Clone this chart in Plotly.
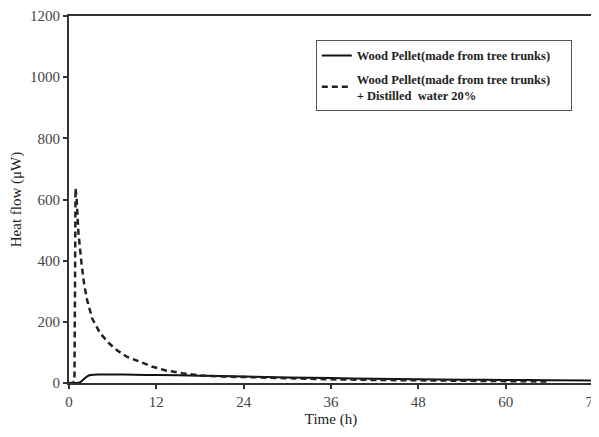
import plotly.graph_objects as go

# Time (h) and heat flow (µW)
t_dry = [0, 1.0, 1.5, 2.0, 2.5, 3.0, 4, 6, 9, 12, 18, 24, 30, 36, 42, 48, 54, 60, 66, 72]
q_dry = [0, 0, 2, 12, 22, 26, 28, 28, 27, 26, 24, 21, 18, 16, 14, 12, 11, 10, 9, 8]

t_wet = [0, 0.5, 0.75, 0.9, 1.05, 1.3, 1.7, 2.1, 2.5, 3.2, 4.3, 5.5, 6.6, 8.0, 9.8, 11.5, 13.3, 15.5, 18, 21, 24.8, 30, 36, 42, 48, 54, 60, 66]
q_wet = [0, 0, 5, 637, 600, 490, 395, 320, 270, 210, 162, 130, 107, 85, 69, 53, 41, 32, 25, 21, 19, 15, 12, 10, 8, 7, 6, 5]

x_ticks = [0, 12, 24, 36, 48, 60, 72]
y_ticks = [0, 200, 400, 600, 800, 1000, 1200]

name_dry = "Wood Pellet(made from tree trunks)&nbsp;&nbsp;&nbsp;&nbsp;&nbsp;"
name_wet = "Wood Pellet(made from tree trunks)<br>+ Distilled  water 20%"

fig = go.Figure()
fig.add_trace(go.Scatter(x=t_dry, y=q_dry, mode="lines", name=name_dry, legendgroup="a",
                         line=dict(color="#111111", width=2, shape="spline", smoothing=0.6)))
fig.add_trace(go.Scatter(x=t_wet, y=q_wet, mode="lines", name=name_wet, legendgroup="b",
                         line=dict(color="#222222", width=2.5, dash="6px,4px")))

axis_common = dict(showgrid=False, zeroline=False, showline=True, linecolor="#333333",
                   linewidth=2, mirror=True, ticks="outside", ticklen=4, tickwidth=1.5,
                   tickcolor="#333333", automargin=False,
                   tickfont=dict(family="Liberation Serif", size=15, color="#444444"),
                   title_font=dict(family="Liberation Serif", size=15, color="#222222"))

fig.update_xaxes(range=[0, 72], tickvals=x_ticks, title_text="Time (h)", title_standoff=4, **axis_common)
fig.update_yaxes(range=[0, 1200], tickvals=y_ticks, title_text="Heat flow (μW)", title_standoff=8, **axis_common)

fig.update_layout(
    width=599, height=429,
    margin=dict(l=61, r=14, t=8, b=54),
    plot_bgcolor="white", paper_bgcolor="white",
    legend=dict(x=0.471, y=0.935, xanchor="left", yanchor="top",
                bgcolor="white", bordercolor="#555555", borderwidth=1,
                font=dict(family="Liberation Serif", size=12.5, color="#222222", weight="bold"),
                tracegroupgap=4, itemwidth=30),
)

fig.write_html("out.html")
